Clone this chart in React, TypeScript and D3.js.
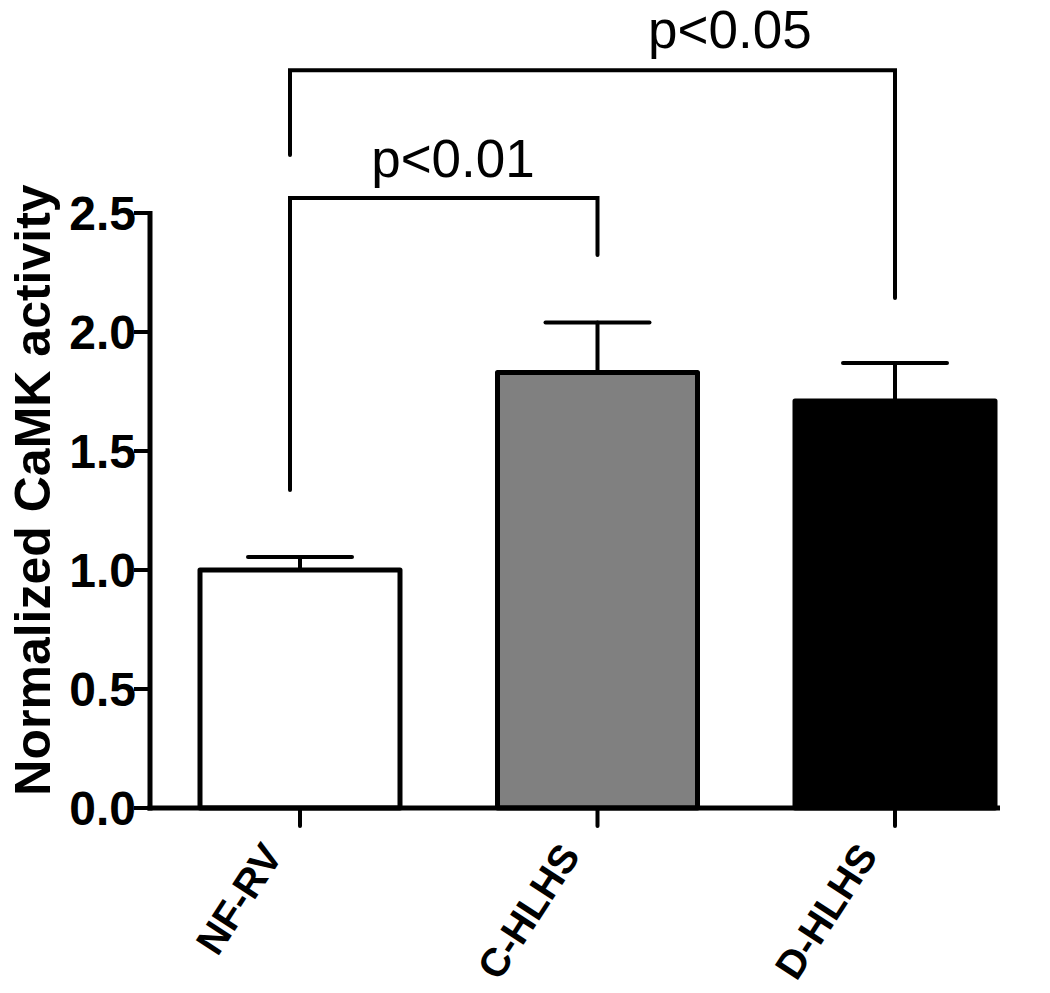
import React from "react";
import * as d3 from "d3";

const categories = ["NF-RV", "C-HLHS", "D-HLHS"];
const means = [1.0, 1.83, 1.71];
const errors = [0.055, 0.21, 0.16];
const fills = ["#ffffff", "#808080", "#000000"];
const yTicks = [0, 0.5, 1.0, 1.5, 2.0, 2.5];

// significance brackets: from group, to group, bracket level, leg bottoms, label, label position (fraction)
const bracketFrom = ["NF-RV", "NF-RV"];
const bracketTo = ["C-HLHS", "D-HLHS"];
const bracketLevel = [2.563, 3.1];
const bracketLeftEnd = [1.336, 2.744];
const bracketRightEnd = [2.324, 2.143];
const bracketLabel = ["p<0.01", "p<0.05"];
const bracketLabelPos = [0.53, 0.727];
const bracketLabelLevel = [2.651, 3.195];

const W = 1050;
const H = 993;
const FONT = "'Liberation Sans', Arial, Helvetica, sans-serif";

export default function App() {
  const y = d3.scaleLinear().domain([0, 2.5]).range([808, 213]);
  const x = d3.scalePoint<string>().domain(categories).range([300, 895]);
  const barW = 200;
  const capW = 104;
  const axisX = 150;
  const axisRight = 1000;

  return (
    <svg
      width={W}
      height={H}
      style={{ position: "absolute", left: 0, top: 0, background: "#fff" }}
      fontFamily={FONT}
    >
      {/* error bars (drawn behind bars) */}
      {categories.map((c, i) => {
        const cx = x(c)!;
        return (
          <g key={"e" + c} stroke="#000" strokeWidth={4} strokeLinecap="round">
            <line x1={cx} x2={cx} y1={y(means[i])} y2={y(means[i] + errors[i])} />
            <line x1={cx - capW / 2} x2={cx + capW / 2} y1={y(means[i] + errors[i])} y2={y(means[i] + errors[i])} />
          </g>
        );
      })}
      {/* bars */}
      {categories.map((c, i) => {
        const cx = x(c)!;
        return (
          <rect
            key={"b" + c}
            x={cx - barW / 2}
            y={y(means[i])}
            width={barW}
            height={y(0) - y(means[i])}
            fill={fills[i]}
            stroke="#000"
            strokeWidth={5}
            strokeLinejoin="round"
          />
        );
      })}
      {/* axes */}
      <line x1={axisX} x2={axisX} y1={y(2.5) - 2} y2={y(0) + 2.5} stroke="#000" strokeWidth={5} />
      <line x1={axisX - 2.5} x2={axisRight} y1={y(0)} y2={y(0)} stroke="#000" strokeWidth={5} />
      {yTicks.map((t) => (
        <g key={"yt" + t}>
          <line x1={axisX - 16} x2={axisX} y1={y(t)} y2={y(t)} stroke="#000" strokeWidth={4} />
          <text
            x={axisX - 14}
            y={y(t)}
            dy="0.36em"
            textAnchor="end"
            fontSize={48}
            fontWeight="bold"
            fill="#000"
          >
            {t.toFixed(1)}
          </text>
        </g>
      ))}
      {categories.map((c) => {
        const cx = x(c)!;
        return (
          <g key={"xt" + c}>
            <line x1={cx} x2={cx} y1={y(0)} y2={y(0) + 18} stroke="#000" strokeWidth={4} strokeLinecap="round" />
            <text
              transform={`translate(${cx - 28},${y(0) + 40}) rotate(-57)`}
              textAnchor="end"
              dy="0.35em"
              fontSize={40}
              fontWeight="bold"
              fill="#000"
            >
              {c}
            </text>
          </g>
        );
      })}
      <text
        transform={`translate(50,490) rotate(-90)`}
        textAnchor="middle"
        fontSize={50}
        fontWeight="bold"
        fill="#000"
      >
        Normalized CaMK activity
      </text>
      {/* significance brackets */}
      {bracketFrom.map((f, i) => {
        const x1 = x(f)! - 10;
        const x2 = x(bracketTo[i])!;
        const ly = y(bracketLevel[i]);
        return (
          <g key={"br" + i}>
            <path
              d={`M${x1},${y(bracketLeftEnd[i])}V${ly}H${x2}V${y(bracketRightEnd[i])}`}
              fill="none"
              stroke="#000"
              strokeWidth={4}
              strokeLinecap="round"
            />
            <text
              x={x1 + (x2 - x1) * bracketLabelPos[i]}
              y={y(bracketLabelLevel[i])}
              textAnchor="middle"
              fontSize={53}
              fill="#000"
            >
              {bracketLabel[i]}
            </text>
          </g>
        );
      })}
    </svg>
  );
}
